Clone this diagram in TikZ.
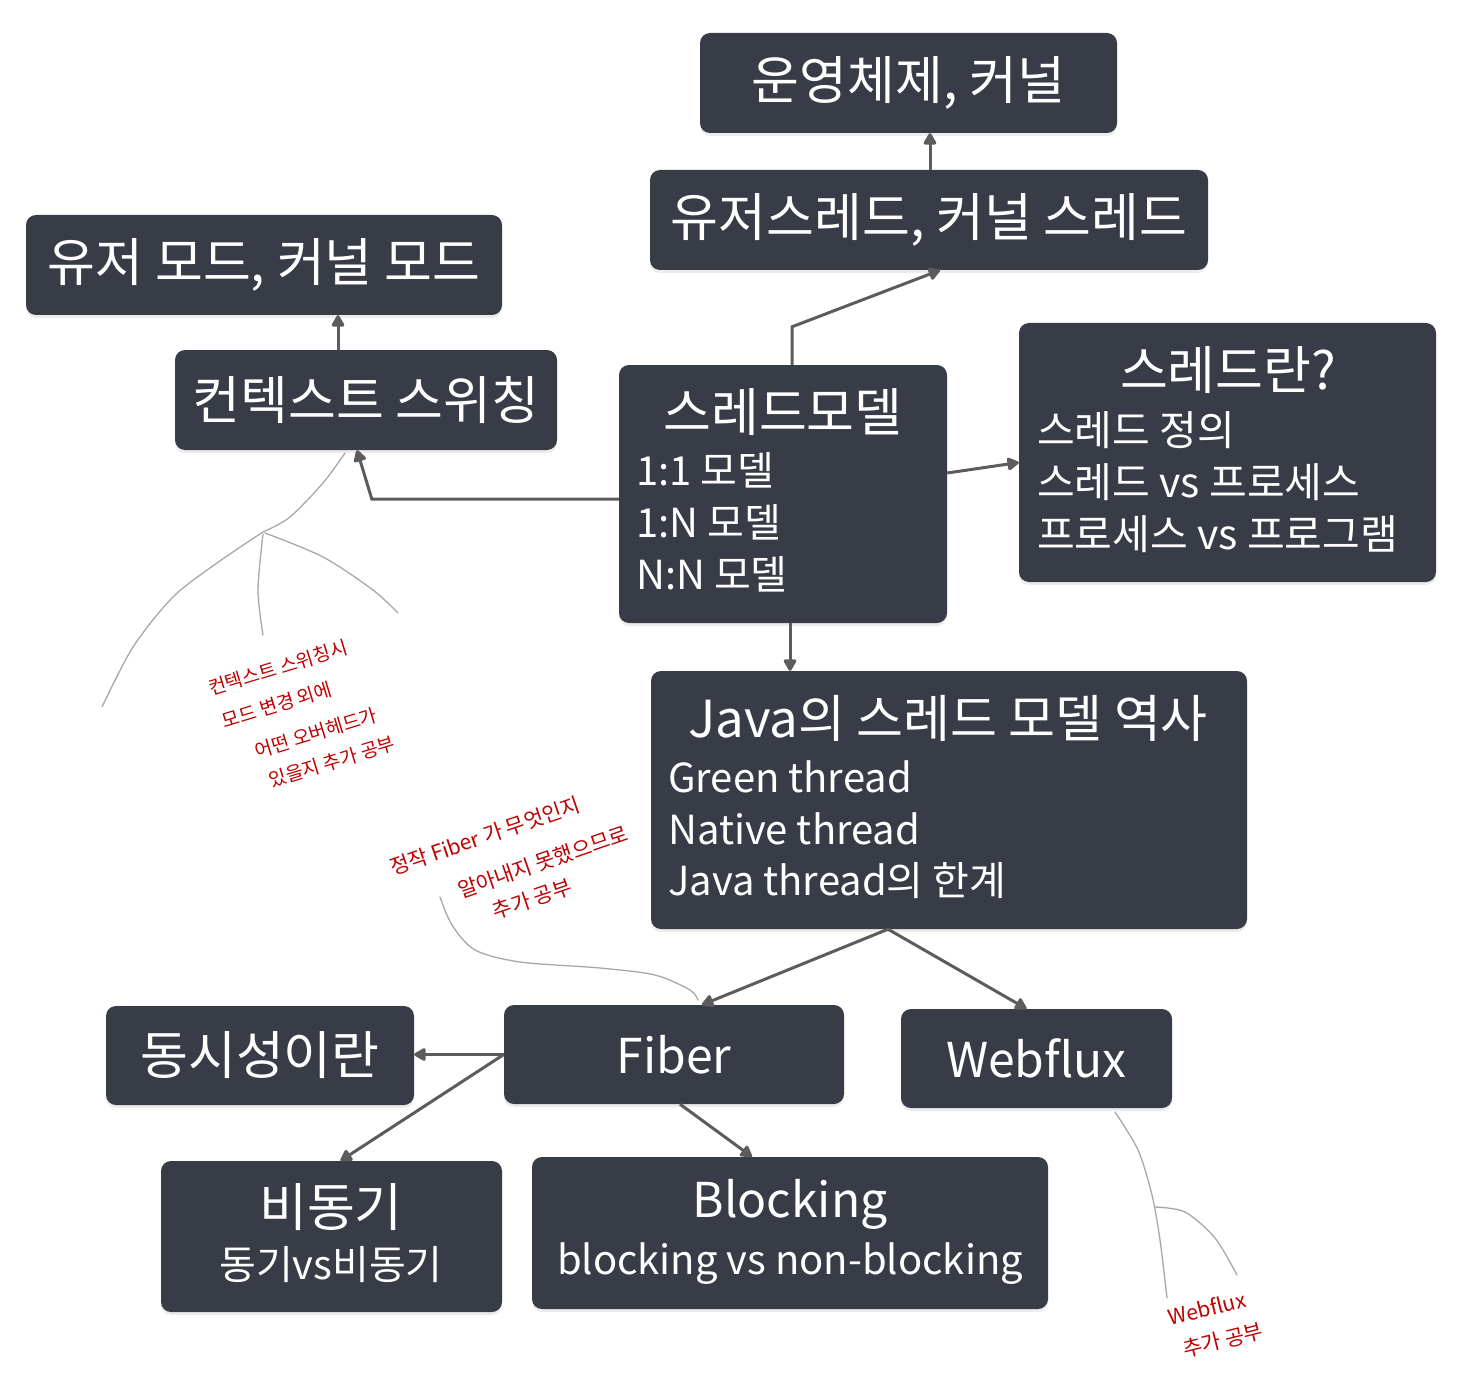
\documentclass[tikz,border=0pt]{standalone}
\usepackage{fontspec}
\setmainfont{Noto Sans CJK KR}
\usetikzlibrary{arrows.meta,shadows}
\definecolor{boxc}{HTML}{383C46}
\definecolor{arrowc}{HTML}{5C5C5C}
\definecolor{penc}{HTML}{A8A8A8}
\definecolor{memoc}{HTML}{C00000}
\newcommand\titlefs{\fontsize{52}{56}\selectfont}
\newcommand\latinfs{\fontsize{48}{52}\selectfont}
\newcommand\itemfs{\fontsize{40}{46}\selectfont}
\newcommand\memofs{\fontsize{19}{22}\selectfont}

\begin{document}
\begin{tikzpicture}[x=1pt, y=-1pt,
  box/.style={fill=boxc, rounded corners=10pt, text=white, inner sep=0pt, font=\titlefs,
    drop shadow={opacity=0.15, shadow xshift=0pt, shadow yshift=-3pt}},
  head/.style={text=white, inner sep=0pt, font=\titlefs},
  item/.style={text=white, inner sep=0pt, anchor=west, font=\itemfs},
  conn/.style={draw=arrowc, line width=3pt, -{Triangle[round, length=13pt, width=14pt]}},
  pen/.style={penc, line width=1.3pt, line cap=round},
  memo/.style={text=memoc, font=\memofs, inner sep=0pt}]
  \useasboundingbox (0,0) rectangle (1459,1380);

  % boxes
  \node[box, minimum width=417, minimum height=100] (os) at (908.5,83) {운영체제, 커널};
  \node[box, minimum width=558, minimum height=100] (uthread) at (929,220) {유저스레드, 커널 스레드};
  \node[box, minimum width=476, minimum height=100] (umode) at (264,265) {유저 모드, 커널 모드};
  \node[box, minimum width=382, minimum height=100] (ctx) at (366,400) {컨텍스트 스위칭};

  \node[box, minimum width=328, minimum height=258] (model) at (783,494) {};
  \node[head] (modelhead) at (783,412) {스레드모델};
  \node[item] (model1) at (636,470) {1:1 모델};
  \node[item] (model2) at (636,522) {1:N 모델};
  \node[item] (model3) at (636,574) {N:N 모델};

  \node[box, minimum width=417, minimum height=259] (what) at (1227.5,452.5) {};
  \node[head] (whathead) at (1228,370) {스레드란?};
  \node[item, font=\fontsize{41}{46}\selectfont] (what1) at (1037,430) {스레드 정의};
  \node[item, font=\fontsize{41}{46}\selectfont] (what2) at (1037,482) {스레드 vs 프로세스};
  \node[item, font=\fontsize{41}{46}\selectfont] (what3) at (1037,534) {프로세스 vs 프로그램};

  \node[box, minimum width=596, minimum height=258] (java) at (949,800) {};
  \node[head, font=\fontsize{51}{56}\selectfont] (javahead) at (948,718) {Java의 스레드 모델 역사};
  \node[item] (java1) at (668,777) {Green thread};
  \node[item] (java2) at (668,829) {Native thread};
  \node[item] (java3) at (668,881) {Java thread의 한계};

  \node[box, minimum width=308, minimum height=99] (conc) at (260,1055.5) {동시성이란};
  \node[box, minimum width=340, minimum height=99, font=\latinfs] (fiber) at (674,1054.5) {Fiber};
  \node[box, minimum width=271, minimum height=99, font=\latinfs] (webflux) at (1036.5,1058.5) {Webflux};

  \node[box, minimum width=341, minimum height=151] (async) at (331.5,1236.5) {};
  \node[head] (asynchead) at (331,1207) {비동기};
  \node[head, font=\itemfs] (async1) at (331,1265) {동기vs비동기};

  \node[box, minimum width=516, minimum height=152] (block) at (790,1233) {};
  \node[head, font=\latinfs] (blockhead) at (790,1204) {Blocking};
  \node[head, font=\itemfs] (block1) at (790,1264) {blocking vs non-blocking};

  % connectors
  \draw[conn] (uthread.north -| 930,0) -- (os.south -| 930,0);
  \draw[conn] ([xshift=9]model.north) -- ++(0,-38) -- ([xshift=11]uthread.south);
  \draw[conn] ([xshift=-28]ctx.north) -- ([xshift=-28]ctx.north |- umode.south);
  \draw[conn] ([yshift=-5]model.west) -- ++(-247,0) -- ([xshift=-9]ctx.south);
  \draw[conn] ([yshift=21]model.east) -- ([yshift=-10]what.west);
  \draw[conn] ([xshift=7]model.south) -- ([xshift=7]model.south |- java.north);
  \draw[conn] ([xshift=-61]java.south) -- ([xshift=28]fiber.north);
  \draw[conn] ([xshift=-61]java.south) -- ([xshift=-10]webflux.north);
  \draw[conn] (fiber.west) -- (fiber.west -| conc.east);
  \draw[conn] (fiber.west) -- ([xshift=9]async.north);
  \draw[conn] ([xshift=6]fiber.south) -- ([xshift=-38]block.north);

  % pen strokes
  \draw[pen] plot[smooth] coordinates {(345,453) (323,483) (290,517) (263,532)};
  \draw[pen] plot[smooth] coordinates {(263,532) (217,563) (173,597) (133,647) (102,707)};
  \draw[pen] plot[smooth] coordinates {(263,534) (258,590) (263,635)};
  \draw[pen] plot[smooth] coordinates {(265,533) (323,557) (373,590) (398,613)};
  \draw[pen] plot[smooth] coordinates {(440,897) (452,925) (475,950) (520,962) (600,968) (655,975) (690,990) (698,1000)};
  \draw[pen] plot[smooth] coordinates {(1115,1112) (1138,1150) (1152,1195) (1160,1240) (1167,1298)};
  \draw[pen] plot[smooth] coordinates {(1155,1207) (1185,1212) (1215,1238) (1237,1275)};

  % memos
  \node[memo, rotate=17] (memo1) at (278,668) {컨텍스트 스위칭시};
  \node[memo, rotate=17] (memo2) at (277,705) {모드 변경 외에};
  \node[memo, rotate=17] (memo3) at (316,733) {어떤 오버헤드가};
  \node[memo, rotate=17] (memo4) at (332,762) {있을지 추가 공부};
  \node[memo, rotate=19, font=\fontsize{21}{24}\selectfont] (memo5) at (485,836) {정작 Fiber 가 무엇인지};
  \node[memo, rotate=19, font=\fontsize{21}{24}\selectfont] (memo6) at (543,862) {알아내지 못했으므로};
  \node[memo, rotate=19, font=\fontsize{21}{24}\selectfont] (memo7) at (532,899) {추가 공부};
  \node[memo, rotate=14, font=\fontsize{21}{24}\selectfont] (memo8) at (1207,1308) {Webflux};
  \node[memo, rotate=14, font=\fontsize{21}{24}\selectfont] (memo9) at (1223,1340) {추가 공부};
\end{tikzpicture}
\end{document}
